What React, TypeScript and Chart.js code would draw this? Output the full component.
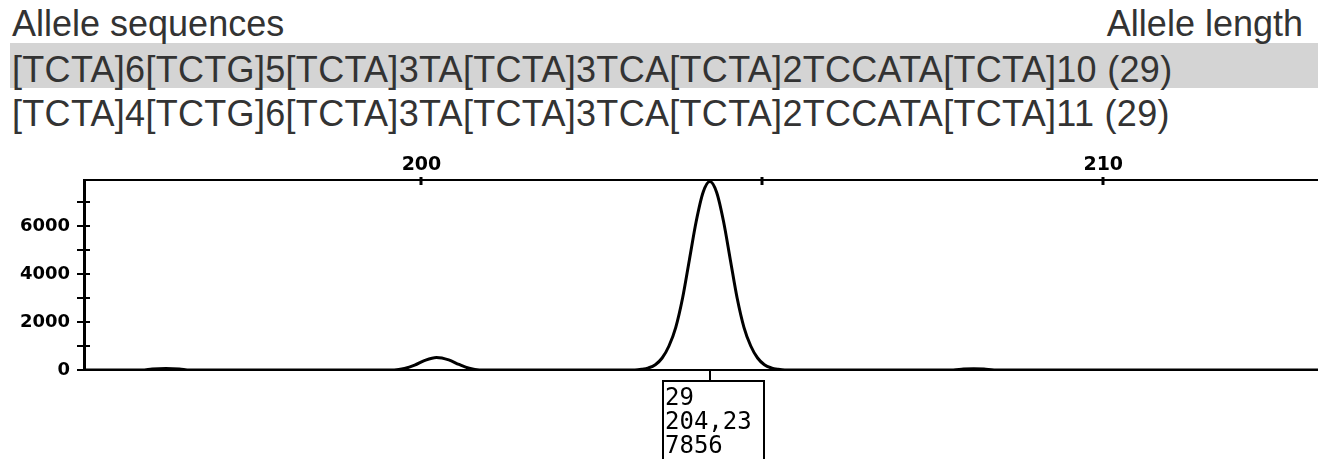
import React, { useEffect, useRef } from "react";
import { Chart, registerables } from "chart.js";

Chart.register(...registerables);

// ---- Data ----
const headerLeft = "Allele sequences";
const headerRight = "Allele length";
const alleleRows = [
  "[TCTA]6[TCTG]5[TCTA]3TA[TCTA]3TCA[TCTA]2TCCATA[TCTA]10 (29)",
  "[TCTA]4[TCTG]6[TCTA]3TA[TCTA]3TCA[TCTA]2TCCATA[TCTA]11 (29)",
];

const sizeBp = [
  195.05, 195.9, 196.05, 196.25, 196.45, 196.6,
  199.6, 199.75, 199.9, 200.05, 200.22, 200.4, 200.55, 200.7, 200.85,
  203.13, 203.23, 203.33, 203.43, 203.53, 203.63, 203.73, 203.83, 203.93, 204.03, 204.13,
  204.23,
  204.33, 204.43, 204.53, 204.63, 204.73, 204.83, 204.93, 205.03, 205.13, 205.23, 205.33,
  207.8, 207.95, 208.1, 208.25, 208.4,
  213.15,
];
const rfu = [
  0, 0, 40, 60, 40, 0,
  0, 60, 200, 400, 520, 420, 230, 70, 0,
  0, 30, 90, 220, 500, 1000, 1780, 3000, 4600, 6200, 7400,
  7856,
  7400, 6200, 4600, 3000, 1780, 1000, 500, 220, 90, 30, 0,
  0, 40, 50, 40, 0,
  0,
];

const xMin = 195.05;
const xMax = 213.15;
const yMin = 0;
const yMax = 7920;
const xTickValues = [200, 205, 210];
const xTickLabels = ["200", "", "210"];
const yTickValues = [0, 1000, 2000, 3000, 4000, 5000, 6000, 7000];
const yTickLabels = ["0", "", "2000", "", "4000", "", "6000", ""];

const peakAllele = "29";
const peakSize = 204.23;
const peakHeight = 7856;

const decorPlugin = {
  id: "decor",
  afterDraw(chart: any) {
    const ctx = chart.ctx;
    const xs = chart.scales.x;
    const ys = chart.scales.y;
    const area = chart.chartArea;
    ctx.save();
    ctx.strokeStyle = "#000";
    // y tick crosses
    ctx.lineWidth = 2;
    ys.ticks.forEach((t: any) => {
      const py = Math.round(ys.getPixelForValue(t.value));
      ctx.beginPath();
      ctx.moveTo(area.left - 7, py);
      ctx.lineTo(area.left + 6, py);
      ctx.stroke();
    });
    // x tick dots on top line
    ctx.lineWidth = 3;
    xs.ticks.forEach((t: any) => {
      const px = Math.round(xs.getPixelForValue(t.value));
      ctx.beginPath();
      ctx.moveTo(px, area.top - 3);
      ctx.lineTo(px, area.top + 5);
      ctx.stroke();
    });
    // peak annotation box
    const px = Math.round(xs.getPixelForValue(peakSize));
    const base = Math.round(ys.getPixelForValue(0));
    ctx.lineWidth = 2;
    ctx.beginPath();
    ctx.moveTo(px, base);
    ctx.lineTo(px, base + 11);
    ctx.stroke();
    ctx.strokeRect(px - 47, base + 11, 101, 140);
    ctx.font = "24px 'DejaVu Sans Mono'";
    ctx.fillStyle = "#000";
    ctx.textBaseline = "alphabetic";
    ctx.textAlign = "left";
    const lines = [peakAllele, peakSize.toFixed(2).replace(".", ","), String(peakHeight)];
    lines.forEach((s, i) => ctx.fillText(s, px - 45, base + 11 + 24 + i * 24));
    ctx.restore();
  },
};

function TraceChart() {
  const ref = useRef<HTMLCanvasElement | null>(null);
  useEffect(() => {
    if (!ref.current) return;
    const chart = new Chart(ref.current, {
      type: "line",
      data: {
        datasets: [
          {
            data: sizeBp.map((x, i) => ({ x, y: rfu[i] })),
            borderColor: "#000",
            borderWidth: 3,
            pointRadius: 0,
            fill: false,
            tension: 0.4,
            cubicInterpolationMode: "monotone",
          } as any,
        ],
      },
      options: {
        animation: false,
        responsive: false,
        devicePixelRatio: 1,
        layout: { padding: { left: 0, right: 0, top: 0, bottom: 89 } },
        plugins: { legend: { display: false }, tooltip: { enabled: false } },
        scales: {
          x: {
            type: "linear",
            position: "top",
            min: xMin,
            max: xMax,
            afterBuildTicks: (s: any) => {
              s.ticks = xTickValues.map((v) => ({ value: v }));
            },
            afterFit: (s: any) => {
              s.height = 40;
            },
            ticks: {
              autoSkip: false,
              maxRotation: 0,
              padding: 4,
              color: "#000",
              font: { family: "'DejaVu Sans'", size: 19, weight: "bold" },
              callback: (v: any) => {
                const i = xTickValues.indexOf(Number(v));
                return i >= 0 ? xTickLabels[i] : "";
              },
            },
            grid: { display: false, drawTicks: false },
            border: { display: true, width: 2, color: "#000" },
          },
          x2: {
            type: "linear",
            position: "bottom",
            min: xMin,
            max: xMax,
            afterFit: (s: any) => {
              s.height = 0;
            },
            ticks: { display: false },
            grid: { display: false, drawTicks: false },
            border: { display: true, width: 2, color: "#000" },
          },
          y: {
            type: "linear",
            min: yMin,
            max: yMax,
            afterBuildTicks: (s: any) => {
              s.ticks = yTickValues.map((v) => ({ value: v }));
            },
            afterFit: (s: any) => {
              s.width = 84;
            },
            ticks: {
              autoSkip: false,
              padding: 14,
              color: "#000",
              font: { family: "'DejaVu Sans'", size: 18, weight: "bold" },
              callback: (v: any) => {
                const i = yTickValues.indexOf(Number(v));
                return i >= 0 ? yTickLabels[i] : "";
              },
            },
            grid: { display: false, drawTicks: false },
            border: { display: true, width: 3, color: "#000" },
          },
        },
      } as any,
      plugins: [decorPlugin],
    });
    return () => chart.destroy();
  }, []);
  return (
    <canvas
      ref={ref}
      width={1318}
      height={319}
      style={{ position: "absolute", left: 0, top: 140, width: 1318, height: 319, display: "block" }}
    />
  );
}

export default function App() {
  const textStyle: React.CSSProperties = {
    position: "absolute",
    fontFamily: "'Liberation Sans', Arial, sans-serif",
    fontSize: 36,
    lineHeight: "36px",
    letterSpacing: "0.3px",
    color: "#333",
    whiteSpace: "nowrap",
  };
  return (
    <div
      style={{
        position: "absolute",
        left: 0,
        top: 0,
        width: 1318,
        height: 459,
        overflow: "hidden",
        background: "#fff",
      }}
    >
      <div style={{ position: "absolute", left: 10, top: 43, width: 1308, height: 45, background: "#d4d4d4" }} />
      <div style={{ ...textStyle, left: 12, top: 6, letterSpacing: "0px" }}>{headerLeft}</div>
      <div style={{ ...textStyle, right: 15, top: 6, textAlign: "right", letterSpacing: "0px" }}>{headerRight}</div>
      <div style={{ ...textStyle, left: 12, top: 52 }}>{alleleRows[0]}</div>
      <div style={{ ...textStyle, left: 12, top: 96 }}>{alleleRows[1]}</div>
      <TraceChart />
    </div>
  );
}
